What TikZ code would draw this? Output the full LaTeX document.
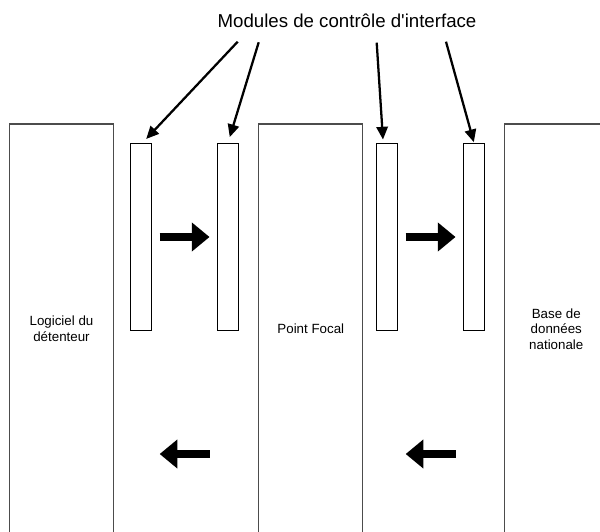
\documentclass[tikz,border=0pt]{standalone}
\usepackage{fontspec}
\setmainfont{Liberation Sans}[Ligatures=TeXOff]
\usetikzlibrary{arrows.meta}
\usetikzlibrary{positioning}

\begin{document}
\begin{tikzpicture}[x=0.75pt,y=-0.75pt,
    system/.style={draw=black!70,line width=0.8pt,minimum width=78pt,
      minimum height=307.5pt,align=center,font=\fontsize{10}{11.8}\selectfont},
    module/.style={draw,line width=0.75pt,minimum width=15.75pt,
      minimum height=140.5pt,inner sep=0pt},
    flow/.style={line width=5.5pt,-{Triangle[length=13.3pt,width=21pt]},
      shorten <=5.6pt,shorten >=5.6pt},
    pointer/.style={line width=1.7pt,-{Triangle[length=9.5pt,width=8.5pt]}}]
  \useasboundingbox (0,0) rectangle (600,532);

  % the three systems
  \node[system] (log) at (61.5,329) {Logiciel du\\détenteur};
  \node[system] (pf)  at (310.8,329) {Point Focal};
  \node[system] (bdn) at (556.3,329) {Base de\\données\\nationale};

  % interface control modules
  \node[module] (m1) at (141.2,237) {};
  \node[module] (m2) at (228,237) {};
  \node[module] (m3) at (387.2,237) {};
  \node[module] (m4) at (474,237) {};

  \node[anchor=base,font=\fontsize{14}{16}\selectfont] (title) at (347,27.3)
    {Modules de contrôle d'interface};
  \coordinate (p1) at (237.7,41.7);
  \coordinate (p2) at (258.7,42.3);
  \coordinate (p3) at (376.7,42.7);
  \coordinate (p4) at (446,41.7);

  \draw[pointer,shorten >=4pt] (p1) -- ([xshift=1pt]m1.north);
  \draw[pointer,shorten >=4.5pt] (p2) -- (m2.north);
  \draw[pointer,shorten >=2.5pt] (p3) -- ([xshift=-3pt]m3.north);
  \draw[pointer,shorten >=0.5pt] (p4) -- (m4.north);

  % data flows
  \draw[flow] (m1) -- (m2);
  \draw[flow] (m3) -- (m4);
  \draw[flow] (m2.west |- 0,454) -- (m1.east |- 0,454);
  \draw[flow] (m4.west |- 0,454) -- (m3.east |- 0,454);
\end{tikzpicture}
\end{document}
